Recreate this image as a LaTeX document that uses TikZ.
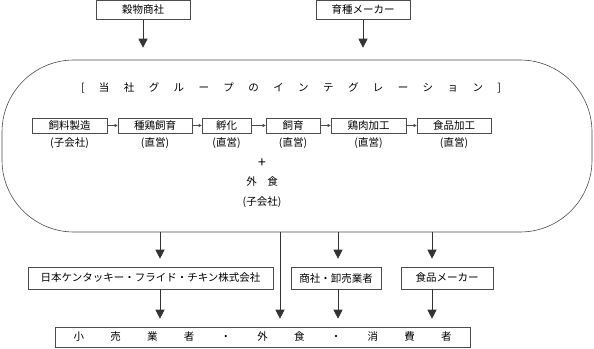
\documentclass[tikz,border=0pt]{standalone}
\usepackage{fontspec}
\setmainfont{Noto Sans CJK JP}
\usetikzlibrary{arrows.meta,positioning}

\begin{document}
\begin{tikzpicture}[
    x=1pt, y=-1pt,
    line width=0.6pt,
    box/.style={draw=black!70, inner sep=0pt, minimum height=15pt},
    sub/.style={inner sep=1pt},
    >={Triangle[length=9pt, width=9pt]},
    small/.style={-{Triangle[length=3pt, width=3pt]}, draw=black!70},
    flow/.style={->, draw=black!80, shorten >=8pt},
    font=\fontsize{10.5}{12}\selectfont
]
    \useasboundingbox (0,0) rectangle (594,348);

    % 上段 (仕入先)
    \node[box, minimum width=94pt, minimum height=19pt] (grain)   at (143,10) {穀物商社};
    \node[box, minimum width=94pt, minimum height=19pt] (breeder) at (363,10) {育種メーカー};

    % 当社グループの枠
    \node[draw=black!70, rounded corners=72pt, minimum width=590pt, minimum height=172pt] (group) at (297,146) {};
    \node (title) at (291,88) {\makebox[420pt][s]{[ 当 社 グ ル ー プ の イ ン テ グ レ ー シ ョ ン ]}};

    % 工程の箱 (左から右へ)
    \node[box, minimum width=75pt] (feed)  at (69.5,125.5) {飼料製造};
    \node[box, minimum width=74pt] (breed) at (155,125.5)  {種鶏飼育};
    \node[box, minimum width=49pt] (hatch) at (226.5,125.5) {孵化};
    \node[box, minimum width=54pt] (raise) at (293,125.5)  {飼育};
    \node[box, minimum width=75pt] (meat)  at (368.5,125.5) {鶏肉加工};
    \node[box, minimum width=74pt] (food)  at (454,125.5)  {食品加工};

    % 工程の下の注記
    \node[sub, below=3pt of feed]  {(子会社)};
    \node[sub, below=3pt of breed] {(直営)};
    \node[sub, below=3pt of hatch] {(直営)};
    \node[sub, below=3pt of raise] {(直営)};
    \node[sub, below=3pt of meat]  {(直営)};
    \node[sub, below=3pt of food]  {(直営)};

    % 外食
    \node[font=\fontsize{14}{14}\selectfont] (plus) at (262,163) {+};
    \node (dining)    at (262,182) {外　食};
    \node (diningsub) at (262,202) {(子会社)};

    % 中段
    \node[box, minimum width=245pt, minimum height=22pt] (kfc)    at (150.5,278) {日本ケンタッキー・フライド・チキン株式会社};
    \node[box, minimum width=90pt,  minimum height=22pt] (trader) at (336,278)   {商社・卸売業者};
    \node[box, minimum width=92pt,  minimum height=22pt] (maker)  at (447,278)   {食品メーカー};

    % 下段
    \node[box, minimum width=415pt, minimum height=20pt] (retail) at (262.5,337) {\makebox[378pt][s]{小 売 業 者 ・ 外 食 ・ 消 費 者}};

    % 矢印の位置
    \coordinate (c1) at (160,0);
    \coordinate (c2) at (280,0);
    \coordinate (c3) at (338,0);
    \coordinate (c4) at (432,0);

    % 1. 仕入先から当社グループへ
    \draw[->, draw=black!80, shorten >=12pt] (grain) -- (grain |- group.north);
    \draw[->, draw=black!80, shorten >=12pt] (breeder) -- (breeder |- group.north);

    % 2. 工程の流れ
    \foreach \a/\b in {feed/breed, breed/hatch, hatch/raise, raise/meat, meat/food}
        \draw[small] (\a) -- (\b);

    % 3. 当社グループから中段・下段へ
    \foreach \c/\t in {c1/kfc, c2/retail, c3/trader, c4/maker}
        \draw[flow] (group.south -| \c) -- (\t.north -| \c);

    % 4. 中段から下段へ
    \foreach \c/\s in {c1/kfc, c3/trader, c4/maker}
        \draw[flow] (\s.south -| \c) -- (retail.north -| \c);

\end{tikzpicture}
\end{document}
